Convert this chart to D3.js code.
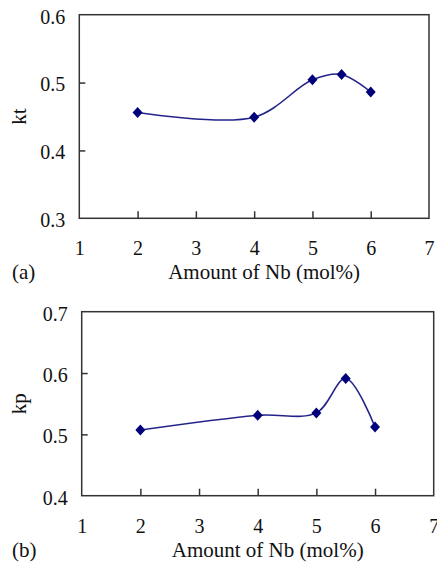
<!DOCTYPE html>
<html>
<head>
<meta charset="utf-8">
<script src="https://cdn.jsdelivr.net/npm/d3@7"></script>
<style>
  body { margin: 0; background: #fff; }
  svg text { font-family: "Times New Roman", "Liberation Serif", Times, "DejaVu Serif", serif; fill: #111; }
</style>
</head>
<body>
<svg id="drawing_region"></svg>
<script>
// Nb content (mol%)
var nb = [2, 4, 5, 5.5, 6];
var kt = [0.456, 0.449, 0.504, 0.512, 0.486];
var kp = [0.507, 0.531, 0.535, 0.591, 0.512];

var xticks = [1, 2, 3, 4, 5, 6, 7];
var kt_ticks = [0.3, 0.4, 0.5, 0.6];
var kp_ticks = [0.4, 0.5, 0.6, 0.7];

var width = 437;
var height = 562;
var serif = '"Times New Roman", "Liberation Serif", Times, "DejaVu Serif", serif';

var svg = d3.select('#drawing_region')
    .attr('width', width)
    .attr('height', height);

const line_color = '#23238c';
const mark_color = '#00007a';
const axis_color = '#333';

function draw_panel(opt) {
    const chart = svg.append('g');

    const xscale = d3.scaleLinear()
          .domain([1, 7])
          .range([opt.left, opt.right]);

    const yscale = d3.scaleLinear()
          .domain(d3.extent(opt.yticks))
          .range([opt.bottom, opt.top]);

    // frame
    chart.append('rect')
        .attr('x', opt.left)
        .attr('y', opt.top)
        .attr('width', opt.right - opt.left)
        .attr('height', opt.bottom - opt.top)
        .attr('fill', 'none')
        .attr('stroke', axis_color)
        .attr('stroke-width', 1.5);

    const xaxis = d3.axisBottom(xscale)
          .tickValues(xticks)
          .tickFormat(d3.format('d'))
          .tickSizeInner(-7)
          .tickSizeOuter(0)
          .tickPadding(23);

    const yaxis = d3.axisLeft(yscale)
          .tickValues(opt.yticks)
          .tickFormat(d3.format('.1f'))
          .tickSizeInner(-6)
          .tickSizeOuter(0)
          .tickPadding(14);

    const xg = chart.append('g')
          .attr('transform', `translate(0, ${opt.bottom})`)
          .call(xaxis);
    const yg = chart.append('g')
          .attr('transform', `translate(${opt.left}, 0)`)
          .call(yaxis);

    [xg, yg].forEach(g => {
        g.attr('font-family', serif).attr('font-size', 20);
        g.select('.domain').remove();
        g.selectAll('line').attr('stroke', axis_color).attr('stroke-width', 1.5);
        g.selectAll('text').attr('fill', '#111');
    });
    yg.selectAll('text').attr('dy', '0.42em');
    // edge ticks sit on the frame
    xg.selectAll('.tick').filter(d => d == 1 || d == 7).select('line').remove();
    yg.selectAll('.tick').filter((d, i) => i == 0 || i == opt.yticks.length - 1).select('line').remove();

    const pts = nb.map((d, i) => [d, opt.values[i]]);

    const line = d3.line()
          .x(d => xscale(d[0]))
          .y(d => yscale(d[1]))
          .curve(d3.curveCatmullRom.alpha(0.5));

    chart.append('path')
        .attr('d', line(pts))
        .attr('stroke', line_color)
        .attr('stroke-width', 1.6)
        .attr('fill', 'none');

    chart.selectAll('.mark')
        .data(pts)
        .enter()
        .append('path')
        .attr('class', 'mark')
        .attr('transform', d => `translate(${xscale(d[0])}, ${yscale(d[1])})`)
        .attr('d', 'M0,-5.5L5,0L0,5.5L-5,0Z')
        .attr('fill', mark_color);

    // axis titles
    const texts = chart.append('g')
          .attr('font-family', serif)
          .attr('font-size', 21)
          .attr('fill', '#111');

    texts.append('text')
        .attr('x', (opt.left + opt.right) / 2 + 10)
        .attr('y', opt.bottom + 61)
        .attr('text-anchor', 'middle')
        .text('Amount of Nb (mol%)');

    texts.append('text')
        .attr('x', 12)
        .attr('y', opt.bottom + 61)
        .text(opt.tag);

    texts.append('text')
        .attr('transform', `translate(26, ${(opt.top + opt.bottom) / 2}) rotate(-90)`)
        .attr('text-anchor', 'middle')
        .text(opt.ylabel);
}

draw_panel({left: 79.3, right: 429, top: 14.7, bottom: 218.3,
            yticks: kt_ticks, values: kt, ylabel: 'kt', tag: '(a)'});
draw_panel({left: 81.7, right: 433.7, top: 311.7, bottom: 495.7,
            yticks: kp_ticks, values: kp, ylabel: 'kp', tag: '(b)'});
</script>
</body>
</html>
